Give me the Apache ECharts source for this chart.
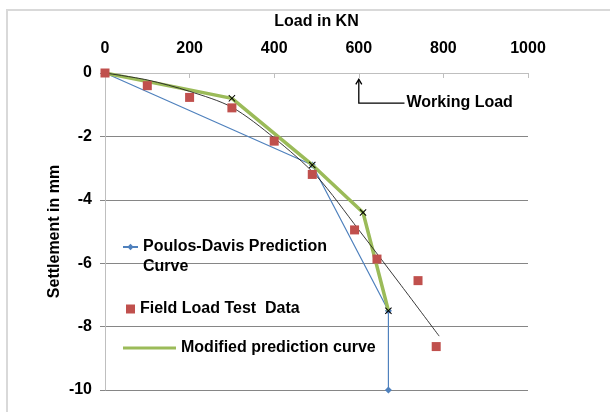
<!DOCTYPE html>
<html><head><meta charset="utf-8">
<style>html,body{margin:0;padding:0;background:#fff}#c{width:610px;height:412px}</style>
<script src="https://cdn.jsdelivr.net/npm/echarts@6/dist/echarts.min.js"></script>
</head><body><div id="c"></div>
<script>
// Data
const xTitle = 'Load in KN';
const yTitle = 'Settlement in mm';
const poulosLoad = [0, 490, 670, 670];
const poulosSettle = [0, -2.9, -7.5, -10];
const fieldLoad = [0, 100, 200, 300, 400, 490, 590, 643, 740, 783];
const fieldSettle = [0, -0.4, -0.77, -1.1, -2.15, -3.2, -4.95, -5.87, -6.55, -8.63];
const modLoad = [0, 300, 490, 610, 670];
const modSettle = [0, -0.8, -2.9, -4.4, -7.5];
const trendLoad = [0, 100, 200, 300, 400, 500, 600, 700, 790];
const trendSettle = [0, -0.22, -0.58, -1.08, -2.05, -3.25, -4.95, -6.7, -8.3];
const workingLoad = 600;
const workingLabel = 'Working Load';
const names = ['Poulos-Davis Prediction\nCurve', 'Field Load Test  Data', 'Modified prediction curve'];

const zip = (a, b) => a.map((v, i) => [v, b[i]]);
const FONT = '"Liberation Sans", Arial, sans-serif';
const xPath = 'path://M0,1L1,0L5,4L9,0L10,1L6,5L10,9L9,10L5,6L1,10L0,9L4,5Z';

const chart = echarts.init(document.getElementById('c'), null, {renderer: 'canvas'});
const txt = {color: '#000', fontWeight: 'bold', fontSize: 16, fontFamily: FONT};
chart.setOption({
  animation: false,
  grid: {left: 105, right: 82, top: 73, bottom: 22},
  xAxis: {
    type: 'value', position: 'top', min: 0, max: 1000, interval: 200,
    name: xTitle, nameLocation: 'middle', nameGap: 43, nameTextStyle: txt,
    axisLine: {show: true, lineStyle: {color: '#bfbfbf'}},
    axisTick: {show: true, inside: true, length: 5, lineStyle: {color: '#bfbfbf'}},
    axisLabel: Object.assign({margin: 16, formatter: v => String(v)}, txt),
    splitLine: {show: false}
  },
  yAxis: {
    type: 'value', min: -10, max: 0, interval: 2,
    name: yTitle, nameLocation: 'middle', nameGap: 42, nameRotate: 90, nameMoveOverlap: false,
    nameTextStyle: txt,
    axisLine: {show: true, lineStyle: {color: '#bfbfbf'}},
    axisTick: {show: true, length: 5, lineStyle: {color: '#868686'}},
    axisLabel: Object.assign({margin: 13}, txt),
    splitLine: {show: true, lineStyle: {color: '#868686', width: 1}}
  },
  legend: [
    {data: [names[0]], left: 122, top: 217, padding: 0, itemWidth: 15, itemHeight: 8,
     formatter: n => '\n' + n,
     textStyle: Object.assign({lineHeight: 20}, txt)},
    {data: [names[1]], left: 126, top: 301, padding: 0, itemWidth: 9, itemHeight: 9,
     textStyle: txt},
    {data: [{name: names[2], icon: 'rect'}], left: 123, top: 340, padding: 0, itemWidth: 53, itemHeight: 3,
     textStyle: txt}
  ],
  series: [
    {name: names[0], type: 'line', data: zip(poulosLoad, poulosSettle), z: 2,
     symbol: 'diamond', symbolSize: 7, showSymbol: true,
     lineStyle: {color: '#4F81BD', width: 1.2}, itemStyle: {color: '#4F81BD'}},
    {name: names[2], type: 'line', data: zip(modLoad, modSettle), z: 3,
     symbol: 'none', lineStyle: {color: '#9BBB59', width: 3.5}, itemStyle: {color: '#9BBB59'}},
    {name: 'trend', type: 'line', data: zip(trendLoad, trendSettle), z: 4, smooth: 0.3,
     symbol: 'none', lineStyle: {color: '#222', width: 0.9}, itemStyle: {color: '#222'}},
    {name: names[1], type: 'scatter', data: zip(fieldLoad, fieldSettle), z: 5,
     symbol: 'rect', symbolSize: 9, itemStyle: {color: '#C0504D', opacity: 1}},
    {name: 'marks', type: 'scatter', data: zip(modLoad.slice(1), modSettle.slice(1)), z: 6,
     symbol: xPath, symbolSize: 7, itemStyle: {color: '#000', opacity: 1}}
  ]
});

// Working-load annotation and outer frame
const base = chart.convertToPixel({gridIndex: 0}, [workingLoad, -0.95]);
const tip = chart.convertToPixel({gridIndex: 0}, [workingLoad, -0.2]);
const end = chart.convertToPixel({gridIndex: 0}, [708, -0.95]);
chart.setOption({
  graphic: [
    {type: 'rect', shape: {x: 7, y: 10, width: 610, height: 420},
     style: {fill: 'none', stroke: '#d9d9d9', lineWidth: 2}, silent: true},
    {type: 'polyline', shape: {points: [[end[0], end[1]], [base[0], base[1]], [tip[0], tip[1]]]},
     style: {fill: 'none', stroke: '#000', lineWidth: 1.3}, z: 10},
    {type: 'polyline', shape: {points: [[tip[0] - 3, tip[1] + 5], [tip[0], tip[1]], [tip[0] + 3, tip[1] + 5]]},
     style: {fill: 'none', stroke: '#000', lineWidth: 1.3}, z: 10},
    {type: 'text', x: end[0] + 2, y: end[1] - 1, z: 10,
     style: {text: workingLabel, fill: '#000', font: 'bold 16px ' + FONT, textVerticalAlign: 'middle', verticalAlign: 'middle'}}
  ]
});
</script></body></html>
